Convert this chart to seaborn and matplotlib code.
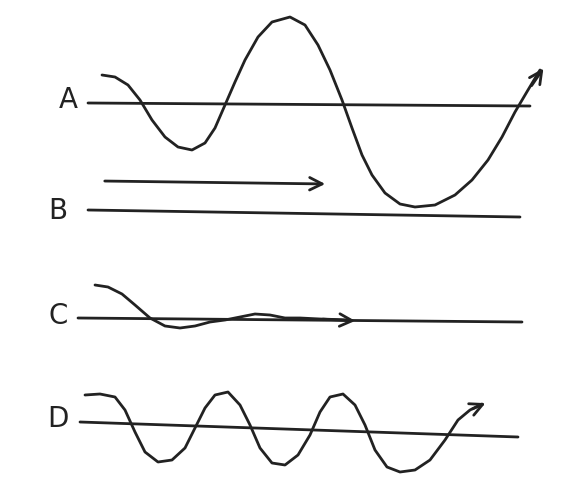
import matplotlib
matplotlib.use("Agg")
import matplotlib.pyplot as plt
import seaborn as sns

# wave A (pixel coords)
wave_a_x = [102, 115, 128, 140, 152, 165, 178, 192, 205, 215, 225, 235, 245, 258, 272, 290, 305, 318, 330, 342, 352, 362, 372, 385, 400, 415, 435, 455, 472, 488, 502, 515, 528, 540]
wave_a_y = [75, 77, 85, 100, 120, 137, 147, 150, 143, 128, 105, 82, 60, 37, 22, 17, 25, 45, 70, 100, 128, 155, 175, 193, 204, 207, 205, 195, 180, 160, 137, 112, 90, 70]
# wave C
wave_c_x = [95, 108, 122, 135, 150, 165, 180, 195, 210, 225, 240, 255, 270, 285, 300, 320, 350]
wave_c_y = [285, 287, 294, 305, 318, 326, 328, 326, 322, 320, 317, 314, 315, 318, 318, 319, 320]
# wave D
wave_d_x = [85, 100, 115, 125, 135, 145, 158, 172, 185, 195, 205, 215, 228, 240, 250, 260, 272, 285, 298, 310, 320, 330, 343, 355, 365, 375, 387, 400, 415, 430, 445, 458, 470, 482]
wave_d_y = [395, 394, 397, 410, 432, 452, 462, 460, 448, 428, 408, 395, 392, 405, 425, 448, 463, 465, 455, 435, 412, 397, 394, 405, 425, 450, 467, 472, 470, 460, 440, 420, 410, 404]
# baselines: (x0, y0, x1, y1)
baselines = {"A": (88, 103, 530, 106), "B": (88, 210, 520, 217),
             "C": (78, 318, 522, 322), "D": (80, 422, 518, 437)}
labels = {"A": (68, 100), "B": (58, 211), "C": (58, 316), "D": (58, 419)}

ink = "#222222"
fig = plt.figure(figsize=(5.73, 4.82), dpi=100)
ax = fig.add_axes([0, 0, 1, 1])
sns.set_style("white")

for name, (x0, y0, x1, y1) in baselines.items():
    sns.lineplot(x=[x0, x1], y=[y0, y1], ax=ax, color=ink, lw=2)
    lx, ly = labels[name]
    ax.text(lx, ly, name, fontsize=20, color=ink, ha="center", va="center")

for wx, wy in [(wave_a_x, wave_a_y), (wave_c_x, wave_c_y), (wave_d_x, wave_d_y)]:
    sns.lineplot(x=wx, y=wy, ax=ax, color=ink, lw=2, sort=False, estimator=None)

# open chevron arrowheads like the hand drawing
arrow = dict(arrowstyle="->,head_length=0.9,head_width=0.45", color=ink, lw=2)
ax.annotate("", xy=(545, 66), xytext=(530, 88), arrowprops=arrow)
ax.annotate("", xy=(328, 184), xytext=(102, 181), arrowprops=arrow)
ax.annotate("", xy=(358, 321), xytext=(320, 319), arrowprops=arrow)
ax.annotate("", xy=(488, 402), xytext=(470, 410), arrowprops=arrow)

ax.set_xlim(0, 573)
ax.set_ylim(482, 0)
ax.axis("off")
fig.savefig("out.png", dpi=100, facecolor="white")
